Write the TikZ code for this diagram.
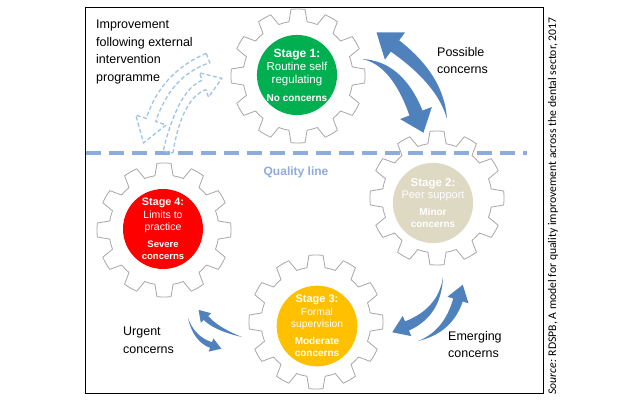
\documentclass[tikz,border=0pt]{standalone}
\usepackage{fontspec}
\setmainfont{Liberation Sans}
\newfontfamily\sourcefont{Carlito}
\usepackage{tikz}
\usetikzlibrary{calc,positioning}
\definecolor{stagegreen}{HTML}{00B050}
\definecolor{stagetan}{HTML}{DDD9C3}
\definecolor{stageamber}{HTML}{FFC000}
\definecolor{stagered}{HTML}{FF0000}
\definecolor{concernblue}{HTML}{4F81BD}
\definecolor{qualityblue}{HTML}{8FAADC}
\definecolor{improveblue}{HTML}{9DC3E6}
\definecolor{geargrey}{HTML}{A6A6A6}
\tikzset{
  gearline/.style={draw=geargrey, line width=0.8pt, fill=white},
  stage/.style={
    circle, minimum size=80pt, inner sep=0pt, text=white, align=center
  },
  sidetext/.style={
    anchor=north west, inner sep=0pt, align=left,
    font=\fontsize{12.5}{17.5}\selectfont
  },
  concernfill/.style={fill=concernblue},
  improveline/.style={draw=improveblue, line width=1.3pt, dash pattern=on 4pt off 2.5pt},
  qualityline/.style={draw=qualityblue, line width=3.5pt, dash pattern=on 15pt off 8pt},
  frame/.style={draw=black, line width=1pt},
}
% concern font inside a stage
\newcommand{\cfont}[1]{\fontsize{#1}{11.5}\selectfont\bfseries}
% gear outline round a centre
\newcommand{\gearwheel}[1]{%
  \draw[gearline] ($(#1)+(-15:55pt)$) \foreach \t in {0,30,...,330} {
    arc[start angle=\t-15, end angle=\t-9.5, radius=55pt]
    -- ($(#1)+(\t-6:67pt)$) arc[start angle=\t-6, end angle=\t+6, radius=67pt]
    -- ($(#1)+(\t+9.5:55pt)$) arc[start angle=\t+9.5, end angle=\t+15, radius=55pt]
  } -- cycle;}
% tapered arrow: tail, bend, head base, half width, half head width, head length
\newcommand{\concernarrow}[6]{%
  \coordinate (b1) at ($(#3)!#4!90:(#2)$);
  \coordinate (b2) at ($(#3)!#4!-90:(#2)$);
  \coordinate (w1) at ($(#3)!#5!90:(#2)$);
  \coordinate (w2) at ($(#3)!#5!-90:(#2)$);
  \coordinate (tip) at ($(#3)!-#6!(#2)$);
  \coordinate (c1) at ($(#2)!#4*0.8!-90:(#3)$);
  \coordinate (c2) at ($(#2)!#4*0.8!90:(#3)$);
  \fill[concernfill] (#1) .. controls ($(#1)!2/3!(c1)$) and ($(b1)!2/3!(c1)$) .. (b1)
    -- (w1) -- (tip) -- (w2) -- (b2)
    .. controls ($(b2)!2/3!(c2)$) and ($(#1)!2/3!(c2)$) .. (#1) -- cycle;}
% hollow dashed arrow: same arguments, constant width
\newcommand{\improvearrow}[6]{%
  \coordinate (t1) at ($(#1)!#4!-90:(#2)$);
  \coordinate (t2) at ($(#1)!#4!90:(#2)$);
  \coordinate (b1) at ($(#3)!#4!90:(#2)$);
  \coordinate (b2) at ($(#3)!#4!-90:(#2)$);
  \coordinate (w1) at ($(#3)!#5!90:(#2)$);
  \coordinate (w2) at ($(#3)!#5!-90:(#2)$);
  \coordinate (tip) at ($(#3)!-#6!(#2)$);
  \coordinate (c1) at ($(#2)!#4!-90:(#3)$);
  \coordinate (c2) at ($(#2)!#4!90:(#3)$);
  \draw[improveline] (t1) .. controls ($(t1)!2/3!(c1)$) and ($(b1)!2/3!(c1)$) .. (b1)
    -- (w1) -- (tip) -- (w2) -- (b2)
    .. controls ($(b2)!2/3!(c2)$) and ($(t2)!2/3!(c2)$) .. (t2) -- cycle;}
\begin{document}
\begin{tikzpicture}[x=1pt, y=1pt]
  \useasboundingbox (0,0) rectangle (624,-400);
  \draw[frame] (85,-7) rectangle (543,-393);

  % Gears
  \coordinate (gear1) at (298,-76);
  \coordinate (gear2) at (437,-198);
  \coordinate (gear3) at (316,-322);
  \coordinate (gear4) at (164,-230);
  \foreach \g in {gear1,gear2,gear3,gear4} {\gearwheel{\g}}

  % Stages
  \node[stage, fill=stagegreen, font=\fontsize{11.5}{13}\selectfont] (stage1) at (297,-75)
    {\fontsize{12}{13}\selectfont\bfseries Stage 1:\\Routine self\\regulating\\[5pt]
     \cfont{10}No concerns};
  \node[stage, fill=stagetan, font=\fontsize{11}{12.5}\selectfont] (stage2) at (433,-203)
    {\fontsize{11.5}{12.5}\selectfont\bfseries Stage 2:\\Peer support\\[4pt]
     \cfont{10}Minor\\\cfont{10}concerns};
  \node[stage, fill=stageamber, font=\fontsize{10.3}{12.5}\selectfont] (stage3) at (317,-326)
    {\fontsize{11}{12}\selectfont\bfseries Stage 3:\\Formal\\supervision\\[4pt]
     \cfont{10}Moderate\\\cfont{10}concerns};
  \node[stage, fill=stagered, font=\fontsize{10.5}{12.5}\selectfont] (stage4) at (163,-229)
    {\fontsize{10.8}{12}\selectfont\bfseries Stage 4:\\Limits to\\practice\\[4pt]
     \cfont{9.5}Severe\\\cfont{9.5}concerns};

  % Quality line
  \coordinate (qstart) at (86,-153);
  \coordinate (qend) at (527,-153);
  \draw[qualityline] (qstart) -- (qend);
  \node[text=qualityblue, font=\fontsize{12}{14}\selectfont\bfseries] (quality) at (296,-172) {Quality line};

  % Possible concerns
  \coordinate (pdtail) at (362,-59);
  \coordinate (pdbend) at (397,-63);
  \coordinate (pdhead) at (416,-113);
  \concernarrow{pdtail}{pdbend}{pdhead}{7pt}{17pt}{21pt}
  \coordinate (putail) at (447,-119);
  \coordinate (pubend) at (441,-80);
  \coordinate (puhead) at (395,-46);
  \concernarrow{putail}{pubend}{puhead}{7pt}{17pt}{23pt}

  % Emerging concerns
  \coordinate (edtail) at (443,-277);
  \coordinate (edbend) at (440,-312);
  \coordinate (edhead) at (407,-326);
  \concernarrow{edtail}{edbend}{edhead}{5pt}{11pt}{16pt}
  \coordinate (eutail) at (418,-341);
  \coordinate (eubend) at (448,-332);
  \coordinate (euhead) at (458,-300);
  \concernarrow{eutail}{eubend}{euhead}{5pt}{11pt}{16pt}

  % Urgent concerns
  \coordinate (uutail) at (242,-337);
  \coordinate (uubend) at (216,-329);
  \coordinate (uuhead) at (206,-318);
  \concernarrow{uutail}{uubend}{uuhead}{3pt}{7pt}{11pt}
  \coordinate (udtail) at (188,-318);
  \coordinate (udbend) at (194,-339);
  \coordinate (udhead) at (211,-345);
  \concernarrow{udtail}{udbend}{udhead}{3pt}{7pt}{11pt}

  % Improvement arrows
  \coordinate (idtail) at (208,-58);
  \coordinate (idbend) at (166,-74);
  \coordinate (idhead) at (151,-120);
  \improvearrow{idtail}{idbend}{idhead}{5pt}{16pt}{24pt}
  \coordinate (iutail) at (168,-152);
  \coordinate (iubend) at (180,-94);
  \coordinate (iuhead) at (204,-85);
  \improvearrow{iutail}{iubend}{iuhead}{5pt}{13pt}{19pt}

  % Side texts
  \node[sidetext] (improve) at (96,-20) {Improvement\\following external\\intervention\\programme};
  \node[sidetext] (possible) at (437,-47) {Possible\\concerns};
  \node[sidetext] (emerging) at (448,-331) {Emerging\\concerns};
  \node[sidetext] (urgent) at (123,-327) {Urgent\\concerns};

  % Source
  \node[rotate=90, font=\sourcefont\fontsize{11.7}{13}\selectfont] (source) at (553,-206)
    {\textit{Source:} RDSPB, A model for quality improvement across the dental sector, 2017};
\end{tikzpicture}
\end{document}
